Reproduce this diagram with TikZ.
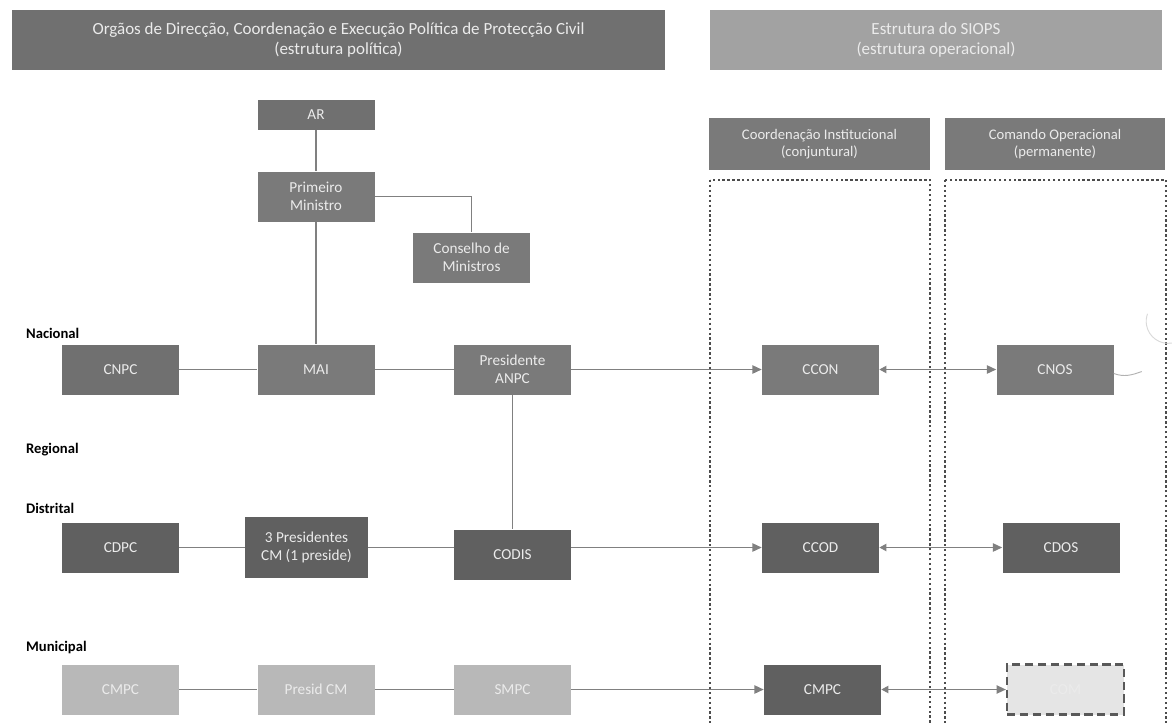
\documentclass[tikz,border=0pt]{standalone}
\usepackage{fontspec}
\setmainfont{Carlito}
\usepackage{tikz}
\usetikzlibrary{arrows.meta}
\definecolor{hdr-dark}{HTML}{707070}
\definecolor{hdr-light}{HTML}{A2A2A2}
\definecolor{box-mid}{HTML}{7A7A7A}
\definecolor{box-dark}{HTML}{606060}
\definecolor{box-light}{HTML}{B8B8B8}
\definecolor{link-grey}{HTML}{808080}
\tikzset{
    org-box/.style = {fill=box-mid, text=white!92!black, rectangle, minimum width=3.51cm, minimum height=1.5cm, inner sep=2pt, align=center, font=\fontsize{13}{15.5}\selectfont},
    dark-box/.style = {org-box, fill=box-dark},
    light-box/.style = {org-box, fill=box-light},
    head-box/.style = {fill=hdr-dark, text=white!92!black, rectangle, minimum height=1.8cm, align=center, font=\fontsize{14.5}{17.5}\selectfont},
    level-label/.style = {anchor=west, font=\bfseries\fontsize{12.5}{15}\selectfont},
    link/.style = {draw=link-grey, line width=1.5pt},
    link-arrow/.style = {link, -{Triangle[length=8pt,width=7pt]}},
    link-both/.style = {link, {Triangle[length=6pt,width=6pt]}-{Triangle[length=8pt,width=7pt]}},
    zone/.style = {draw=black!70, line width=1.6pt, dash pattern=on 2pt off 2.2pt},
}

\begin{document}
\begin{tikzpicture}[x=0.03cm, y=-0.03cm]
\useasboundingbox (0,0) rectangle (1172,722);

\node [head-box, minimum width=19.59cm] (politica) at (338.5,40) {Orgãos de Direcção, Coordenação e Execução Política de Protecção Civil\\(estrutura política)};
\node [head-box, fill=hdr-light, minimum width=13.56cm] (siops) at (936,40) {Estrutura do SIOPS\\(estrutura operacional)};
\node [head-box, fill=box-mid, minimum width=6.63cm, minimum height=1.56cm, font=\fontsize{12.5}{15}\selectfont] (coord) at (819.5,144) {Coordenação Institucional\\(conjuntural)};
\node [head-box, fill=box-mid, minimum width=6.6cm, minimum height=1.56cm, font=\fontsize{12.5}{15}\selectfont] (comando) at (1055,144) {Comando Operacional\\(permanente)};

\draw [zone] (710,180) rectangle (930,735);
\draw [zone] (945,180) rectangle (1166,735);

\node [level-label] at (22,333) {Nacional};
\node [level-label] at (22,450) {Regional};
\node [level-label] at (22,508) {Distrital};
\node [level-label] at (22,648) {Municipal};

\node [org-box, fill=box-dark!90, minimum height=0.9cm] (ar) at (316,115) {AR};
\node [org-box] (pm) at (316,196.5) {Primeiro\\Ministro};
\node [org-box] (conselho) at (471.5,257.5) {Conselho de\\Ministros};

\node [org-box, fill=hdr-dark] (cnpc) at (120.5,369.5) {CNPC};
\node [org-box] (mai) at (316,369.5) {MAI};
\node [org-box] (anpc) at (512.5,369.5) {Presidente\\ANPC};
\node [org-box] (ccon) at (820.5,369.5) {CCON};
\node [org-box] (cnos) at (1055,369.5) {CNOS};

\node [dark-box] (cdpc) at (120.5,547.5) {CDPC};
\node [dark-box, minimum width=3.69cm, minimum height=1.83cm] (presid3) at (306.5,547.5) {3 Presidentes\\CM (1 preside)};
\node [dark-box] (codis) at (512.5,554.5) {CODIS};
\node [dark-box] (ccod) at (820.5,547.5) {CCOD};
\node [dark-box] (cdos) at (1061,547.5) {CDOS};

\node [light-box] (cmpc) at (120.5,689.5) {CMPC};
\node [light-box] (presidcm) at (316,689.5) {Presid CM};
\node [light-box] (smpc) at (512.5,689.5) {SMPC};
\node [dark-box] (cmpc-op) at (822.5,689.5) {CMPC};
\node [org-box, fill=black!10, draw=black!65, line width=1.8pt, dash pattern=on 7pt off 4pt] (com) at (1065.5,689.5) {COM};

\draw [link] (ar) -- (pm);
\draw [link] (pm) -- (mai);
\draw [link] (pm.east) -| (conselho.north);
\draw [link] (cnpc) -- (mai);
\draw [link] (mai) -- (anpc);
\draw [link] (anpc) -- (codis);
\draw [link-arrow] (anpc) -- (ccon);
\draw [link-both] (ccon) -- (cnos);

\draw [link] (cdpc) -- (presid3);
\draw [link] (presid3) -- (codis.west |- presid3.east);
\draw [link-arrow] (codis.east |- ccod.west) -- (ccod);
\draw [link-both] (ccod) -- (cdos);

\draw [link] (cmpc) -- (presidcm);
\draw [link] (presidcm) -- (smpc);
\draw [link-arrow] (smpc) -- (cmpc-op);
\draw [link-both] (cmpc-op) -- (com);

\draw [black!30, line width=0.8pt] (cnos.east) ++(0,4) to[out=-20, in=200] ++(28,-2);
\draw [black!15, line width=0.8pt] (1172,343) arc (80:200:22);
\end{tikzpicture}
\end{document}
